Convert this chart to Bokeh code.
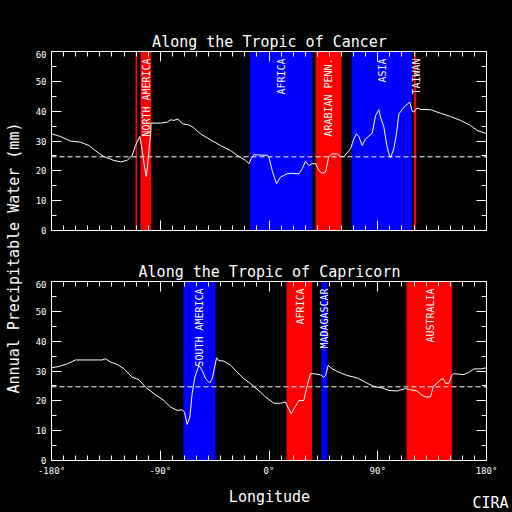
from math import pi
from bokeh.plotting import figure
from bokeh.layouts import row, column
from bokeh.models import (Range1d, LinearAxis, SingleIntervalTicker, Span,
                          ColumnDataSource)
from bokeh.core.properties import value
from bokeh.embed import file_html
from bokeh.resources import INLINE

FONT = "DejaVu Sans Mono"

# ---------------- data ----------------
cancer_lon = [-180, -172.5, -164.3, -156, -149, -142.2, -136.7, -128.4, -122.9, -117.4,
              -113.2, -110.5, -106.9, -104.9, -103, -101.6, -100.3, -98.9, -97.9, -97.7,
              -89.8, -84.3, -81.5, -78.7, -75.4, -71.8, -66.3, -62.2, -56.7, -48.4,
              -40.2, -31.8, -26.3, -19.4, -16.6, -14.7, -12.5, -1.5, -0.1, 2.6,
              6.2, 9.5, 15.0, 17.8, 24.7, 27.5, 30.2, 33.0, 35.7, 38.5,
              41.3, 44.0, 46.8, 49.5, 52.3, 56.4, 59.2, 62.0, 67.5, 70.2,
              72.4, 74.4, 77.1, 79.9, 85.4, 88.2, 90.9, 92.3, 95.1, 97.3,
              99.2, 100.6, 103.3, 105.5, 107.5, 110.2, 113.0, 116.6, 118.5, 119.9,
              122.6, 125.4, 133.7, 142.0, 150.2, 158.5, 166.8, 172.3, 177.8, 180]
cancer_pw = [32.4, 31.5, 30.0, 29.6, 28.5, 26.3, 24.8, 23.5, 23.0, 23.5,
             25.2, 28.5, 31.5, 26.8, 21.3, 18.1, 22.4, 29.0, 32.4, 36.0,
             36.0, 36.3, 37.1, 36.9, 37.4, 35.8, 35.4, 34.4, 32.4, 30.4,
             28.5, 26.8, 25.2, 23.5, 22.4, 24.1, 25.4, 25.2, 24.6, 20.1,
             15.7, 17.9, 19.0, 19.2, 19.0, 20.7, 23.2, 21.8, 22.4, 22.4,
             20.1, 19.2, 19.6, 24.8, 25.7, 25.7, 24.8, 24.8, 27.4, 30.7,
             32.4, 31.5, 28.5, 30.7, 32.6, 38.5, 40.5, 38.0, 34.6, 29.0,
             25.7, 24.4, 27.4, 32.4, 39.1, 40.5, 41.9, 43.0, 40.0, 39.7,
             41.1, 40.6, 40.5, 39.3, 38.2, 36.9, 35.2, 33.5, 32.8, 32.4]

capricorn_lon = [-180, -173.9, -167, -160.1, -150.5, -138.1, -135.3, -131.2, -125.7, -120.1,
                 -113.2, -107.7, -102.2, -95.3, -87, -81.5, -76, -71.8, -69.9, -67.7,
                 -65.5, -63.6, -61.4, -58.0, -55.3, -52.5, -49, -47, -43.4, -41.5,
                 -37.3, -31.8, -26.3, -20.8, -15.3, -7, -2.9, 4.0, 9.5, 13.7,
                 15.6, 18.4, 20.6, 24.7, 28.8, 31.6, 34.4, 37.1, 42.6, 45.4,
                 46.8, 49.0, 52.3, 57.8, 64.7, 73.0, 81.3, 86.8, 93.7, 99.2,
                 106.1, 113.0, 117.1, 119.9, 122.6, 126.8, 129.5, 133.7, 135.9, 139.2,
                 142, 144.2, 146.1, 148.9, 151.1, 153, 161.3, 165.4, 169.6, 175.1, 180]
capricorn_pw = [31.1, 31.5, 32.4, 33.7, 33.7, 33.7, 34.1, 33.0, 32.2, 30.8,
                27.9, 27.1, 24.6, 22.4, 20.1, 17.9, 16.8, 17.0, 16.2, 12.1,
                14.6, 22.4, 27.9, 31.9, 30.2, 27.4, 26.0, 27.4, 34.4, 33.5,
                33.3, 31.9, 29.6, 27.4, 25.8, 22.9, 21.3, 19.2, 19.2, 19.6,
                17.9, 15.7, 17.3, 20.1, 20.1, 25.2, 29.1, 29.1, 28.7, 27.9,
                28.5, 31.9, 30.7, 29.6, 28.5, 27.7, 25.9, 24.8, 24.3, 23.5,
                23.3, 24.1, 23.7, 23.5, 23.3, 21.8, 21.3, 21.3, 24.8, 25.9,
                27.1, 27.4, 25.9, 25.9, 28.5, 29.1, 28.8, 29.6, 30.7, 30.7, 31.1]

mean_pw = 24.7

cancer_band_left = [-110.5, -106.3, -15.9, 38.5, 68.3, 119.9]
cancer_band_right = [-109.2, -97.5, 36.0, 60.0, 118.2, 121.8]
cancer_band_color = ["#ff0000", "#ff0000", "#0000ff", "#ff0000", "#0000ff", "#ff0000"]
cancer_names = ["NORTH AMERICA", "AFRICA", "ARABIAN PENN.", "ASIA", "TAIWAN"]
cancer_name_lon = [-101.5, 10.2, 49.1, 93.7, 121.8]

capricorn_band_left = [-70.8, 14.5, 43.5, 113.8]
capricorn_band_right = [-44.3, 35.7, 48.4, 151.6]
capricorn_band_color = ["#0000ff", "#ff0000", "#0000ff", "#ff0000"]
capricorn_names = ["SOUTH AMERICA", "AFRICA", "MADAGASCAR", "AUSTRALIA"]
capricorn_name_lon = [-57.3, 25.7, 46.3, 133.3]

x_ticks = [-180, -90, 0, 90, 180]
x_tick_labels = ["-180°", "-90°", "0°", "90°", "180°"]
y_ticks = [0, 10, 20, 30, 40, 50, 60]

title_cancer = "Along the Tropic of Cancer"
title_capricorn = "Along the Tropic of Capricorn"
y_title = "Annual Precipitable Water (mm)"
x_title = "Longitude"
credit = "CIRA"

BG = {"background-color": "black"}


def text_fig(w, h):
    f = figure(width=w, height=h, x_range=Range1d(0, w), y_range=Range1d(0, h),
               output_backend="svg", toolbar_location=None, min_border=0,
               background_fill_color="black", border_fill_color="black",
               outline_line_color=None, x_axis_location=None, y_axis_location=None,
               styles=BG, frame_align=False)
    f.grid.visible = False
    return f


def style_axis(ax, labels, show):
    ax.axis_line_color = "white"
    ax.major_tick_line_color = "white"
    ax.minor_tick_line_color = "white"
    ax.major_tick_in = 10
    ax.major_tick_out = 0
    ax.minor_tick_in = 5
    ax.minor_tick_out = 0
    ax.major_label_text_color = "white"
    ax.major_label_text_font = FONT
    if show:
        ax.major_label_text_font_size = "9px"
        ax.major_label_standoff = 5
        ax.major_label_overrides = labels
    else:
        ax.major_label_text_font_size = "0px"
        ax.major_label_standoff = 0
        ax.major_label_overrides = {v: "" for v in labels}


def panel(height, top_b, bottom_b, lon, pw, bl, br, bc, names, name_lon, show_x):
    p = figure(width=488, height=height, x_range=Range1d(-180, 180), y_range=Range1d(0, 60),
               output_backend="svg", toolbar_location=None,
               min_border_left=27, min_border_right=26,
               min_border_top=top_b, min_border_bottom=bottom_b,
               background_fill_color="black", border_fill_color="black",
               outline_line_color="white", x_axis_location=None, y_axis_location=None,
               styles=BG)
    p.grid.visible = False

    xlab = {v: t for v, t in zip(x_ticks, x_tick_labels)}
    ylab = {v: str(v) for v in y_ticks}
    specs = [("below", 90, 9, xlab, show_x), ("above", 90, 9, xlab, False),
             ("left", 10, 2, ylab, True), ("right", 10, 2, ylab, False)]
    for loc, interval, nminor, labels, show in specs:
        ax = LinearAxis(ticker=SingleIntervalTicker(interval=interval, num_minor_ticks=nminor))
        style_axis(ax, labels, show)
        p.add_layout(ax, loc)

    bands = ColumnDataSource(dict(left=bl, right=br, color=bc))
    p.quad(left="left", right="right", bottom=0, top=60, fill_color="color",
           line_color=None, source=bands)

    p.add_layout(Span(location=mean_pw, dimension="width", line_color="white",
                      line_width=1, line_dash="5 3"))

    lab = ColumnDataSource(dict(x=name_lon, text=names))
    p.text(x="x", y=57.7, text="text", source=lab, angle=pi / 2, text_align="right",
           text_baseline="middle", text_color="white", text_font=value(FONT),
           text_font_size="10px")

    p.line(lon, pw, line_color="white", line_width=1)
    return p


def put_text(f, x, y, s, align="center", angle=0):
    f.text(x=[x], y=[y], text=[s], angle=angle, text_align=align,
           text_baseline="alphabetic", text_color="white", text_font=value(FONT),
           text_font_size="15px")


# header above the top panel
head1 = text_fig(488, 50)
put_text(head1, 245, 8.6, title_cancer)

top = panel(196, 1, 16, cancer_lon, cancer_pw,
            cancer_band_left, cancer_band_right, cancer_band_color,
            cancer_names, cancer_name_lon, False)

head2 = text_fig(488, 34)
put_text(head2, 245, 8.6, title_capricorn)

bottom = panel(198, 1, 18, capricorn_lon, capricorn_pw,
               capricorn_band_left, capricorn_band_right, capricorn_band_color,
               capricorn_names, capricorn_name_lon, True)

foot = text_fig(488, 34)
put_text(foot, 245, 15.5, x_title)
put_text(foot, 484, 10, credit, align="right")

strip = text_fig(24, 512)
put_text(strip, 13.3, 254.5, y_title, angle=pi / 2)

layout = row(strip, column(head1, top, head2, bottom, foot, spacing=0, styles=BG),
             spacing=0, styles=BG)

open("out.html", "w").write(file_html(layout, INLINE))
